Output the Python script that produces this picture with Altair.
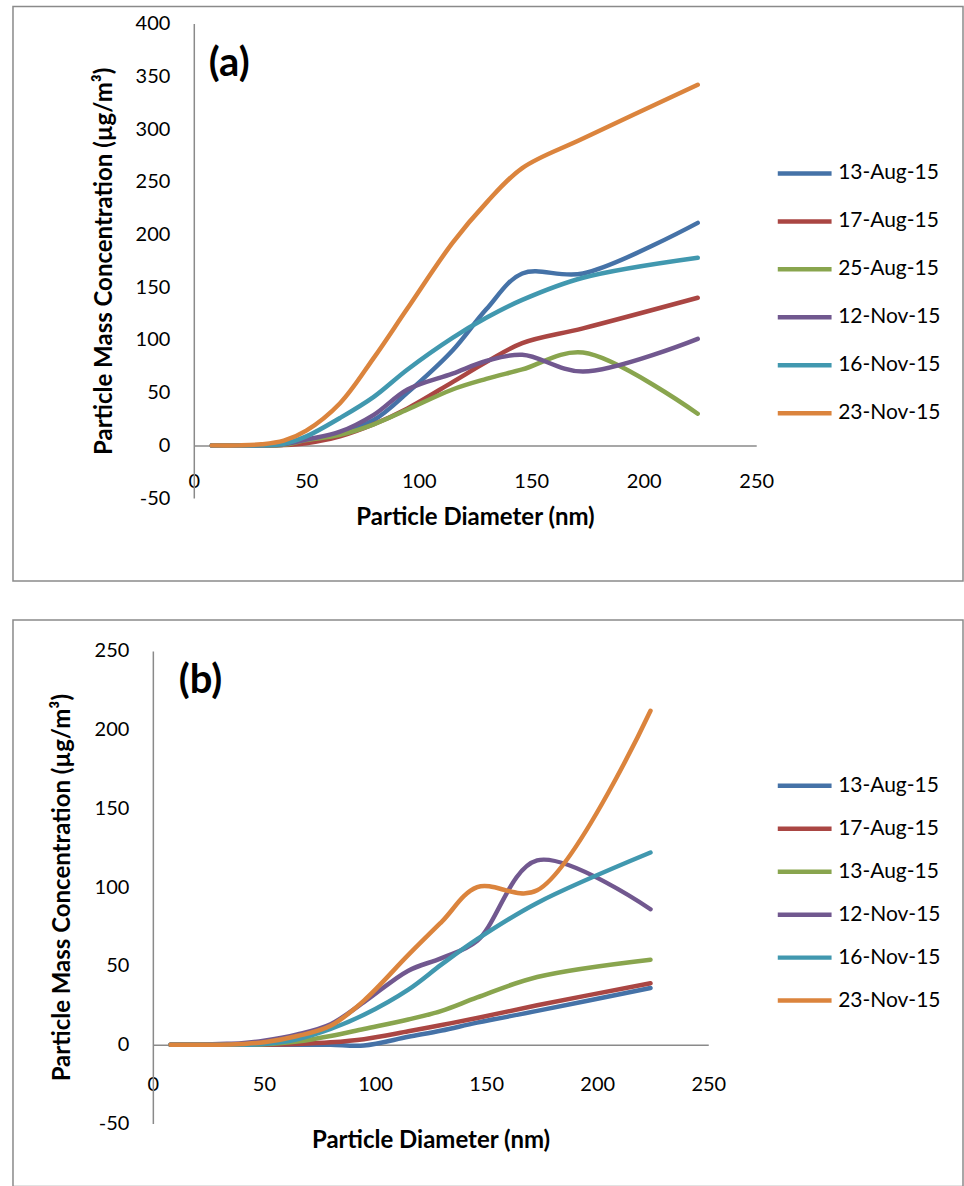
import altair as alt
import pandas as pd

# ---------------- data ----------------
diameter = [8, 20, 30, 40, 50, 65, 80, 95, 115, 130, 146, 173, 224]

keys = ["s1", "s2", "s3", "s4", "s5", "s6"]
colors = ["#4572A7", "#AA4643", "#89A54E", "#71588F", "#4198AF", "#DB843D"]

labels_a = ["13-Aug-15", "17-Aug-15", "25-Aug-15", "12-Nov-15", "16-Nov-15", "23-Nov-15"]
labels_b = ["13-Aug-15", "17-Aug-15", "13-Aug-15", "12-Nov-15", "16-Nov-15", "23-Nov-15"]

# panel (a)
a_13aug = [0, 0, 0, 0.5, 4, 12, 24, 50, 90, 129, 163, 163, 211]
a_17aug = [0, 0, 0, 0.3, 2, 8.5, 20, 35, 60, 79, 97, 111, 140]
a_25aug = [0, 0, 0, 0.5, 5, 10, 20, 34, 53, 63, 72, 88, 30]
a_12nov = [0, 0, 0, 1, 5.5, 13, 29, 53, 68, 80, 86, 70, 101]
a_16nov = [0, 0, 0, 1.5, 8.5, 26, 46, 72, 102, 121, 138, 159, 178]
a_23nov = [0, 0, 1, 4.5, 14, 40, 83, 130, 192, 230, 263, 291, 342]

# panel (b)
b_13aug = [0, 0, 0, 0, 0, 0, 0, -0.5, 5, 9, 14, 21.5, 36]
b_17aug = [0, 0, 0, 0, 0, 0.5, 1.5, 3.5, 8.5, 12.5, 17, 25, 39]
b_13aug_2 = [0, 0, 0, 0, 0.3, 2, 5.5, 10, 16, 21.5, 30, 43, 54]
b_12nov = [0, 0, 0.5, 1, 2.5, 6.5, 13, 27, 47, 55, 66, 117, 86]
b_16nov = [0, 0, 0, 0, 0.5, 3.5, 10, 19, 35, 51, 67, 90, 122]
b_23nov = [0, 0, 0, 0.5, 1.5, 5.5, 12, 28, 57, 78, 100, 98, 212]

x_ticks = [0, 50, 100, 150, 200, 250]
y_ticks_a = [-50, 0, 50, 100, 150, 200, 250, 300, 350, 400]
y_ticks_b = [-50, 0, 50, 100, 150, 200, 250]

FONT = "Lato"
TITLE_SIZE = 24


def build_df(series):
    rows = []
    for k, vals in zip(keys, series):
        for d, c in zip(diameter, vals):
            rows.append({"series": k, "d": d, "c": c})
    return pd.DataFrame(rows)


def label_expr(labels):
    expr = "''"
    for k, lab in reversed(list(zip(keys, labels))):
        expr = f"datum.value == '{k}' ? '{lab}' : ({expr})"
    return expr


def panel(df, labels, tag, tag_x, tag_y, ydom, yticks, W, H, xr, yr,
          x_lab_pad, x_title_pad, y_title_pad, legend_y, row_pad):
    # pixel row of the zero line inside the view
    y0 = yr[0] - (0 - ydom[0]) / (ydom[1] - ydom[0]) * (yr[0] - yr[1])
    x_enc = alt.X(
        "d:Q",
        scale=alt.Scale(domain=[0, 250], range=xr, nice=False, zero=False),
        axis=alt.Axis(
            values=x_ticks, offset=-(H - y0), ticks=False, grid=False,
            labelPadding=x_lab_pad, title="Particle Diameter (nm)",
            titlePadding=x_title_pad, labelFlush=False, labelOverlap=False,
            labelExpr="'' + datum.value",
            labelFont=FONT, labelFontSize=20, labelColor="#000000",
            titleFont=FONT, titleFontSize=TITLE_SIZE, titleFontWeight="bold",
            titleColor="#000000", domainColor="#8a8a8a", domainWidth=1.5,
        ),
    )
    y_enc = alt.Y(
        "c:Q",
        scale=alt.Scale(domain=ydom, range=yr, nice=False, zero=False),
        axis=alt.Axis(
            values=yticks, offset=-xr[0], ticks=False, grid=False,
            labelPadding=24, title="Particle Mass Concentration (µg/m³)",
            titlePadding=y_title_pad, labelFlush=False, labelOverlap=False,
            labelExpr="'' + datum.value",
            labelFont=FONT, labelFontSize=20, labelColor="#000000",
            titleFont=FONT, titleFontSize=TITLE_SIZE, titleFontWeight="bold",
            titleColor="#000000", domainColor="#8a8a8a", domainWidth=1.5,
        ),
    )
    lines = alt.Chart(df).mark_line(
        interpolate="catmull-rom", strokeWidth=4.5, strokeCap="round",
        strokeJoin="round",
    ).encode(
        x=x_enc,
        y=y_enc,
        color=alt.Color(
            "series:N",
            scale=alt.Scale(domain=keys, range=colors),
            legend=alt.Legend(
                title=None, orient="none", legendX=763, legendY=legend_y,
                symbolType="stroke", symbolSize=2900, symbolStrokeWidth=4.5,
                clipHeight=24, rowPadding=row_pad, labelFontSize=21,
                labelFont=FONT, labelColor="#000000", labelOffset=4,
                padding=0, labelExpr=label_expr(labels),
            ),
        ),
    )
    tag_df = pd.DataFrame({"d": [tag_x], "c": [tag_y], "t": [tag]})
    tag_text = alt.Chart(tag_df).mark_text(
        align="left", baseline="middle", font=FONT, fontSize=40,
        fontWeight="bold", color="#000000",
    ).encode(x=x_enc, y=y_enc, text="t:N")
    return alt.layer(lines, tag_text).properties(width=W, height=H)


panel_a = panel(
    build_df([a_13aug, a_17aug, a_25aug, a_12nov, a_16nov, a_23nov]),
    labels_a, "(a)", 6.7, 362, [-50, 400], y_ticks_a,
    951, 575, [181, 744], [492, 17],
    26, 14, 19, 155, 24,
)

panel_b = panel(
    build_df([b_13aug, b_17aug, b_13aug_2, b_12nov, b_16nov, b_23nov]),
    labels_b, "(b)", 11.7, 231, [-50, 250], y_ticks_b,
    951, 567, [140, 696], [504, 31],
    30, 34, 20, 154, 19,
)

chart = alt.vconcat(panel_a, panel_b, spacing=37).resolve_scale(
    x="independent", y="independent", color="independent"
).resolve_legend(color="independent").properties(
    padding={"left": 12, "top": 5, "right": 0, "bottom": 0},
    background="#ffffff",
).configure_view(
    stroke="#8a8a8a", strokeWidth=1.5
)

chart.save("out.html", embed_options={"renderer": "svg", "actions": False})
